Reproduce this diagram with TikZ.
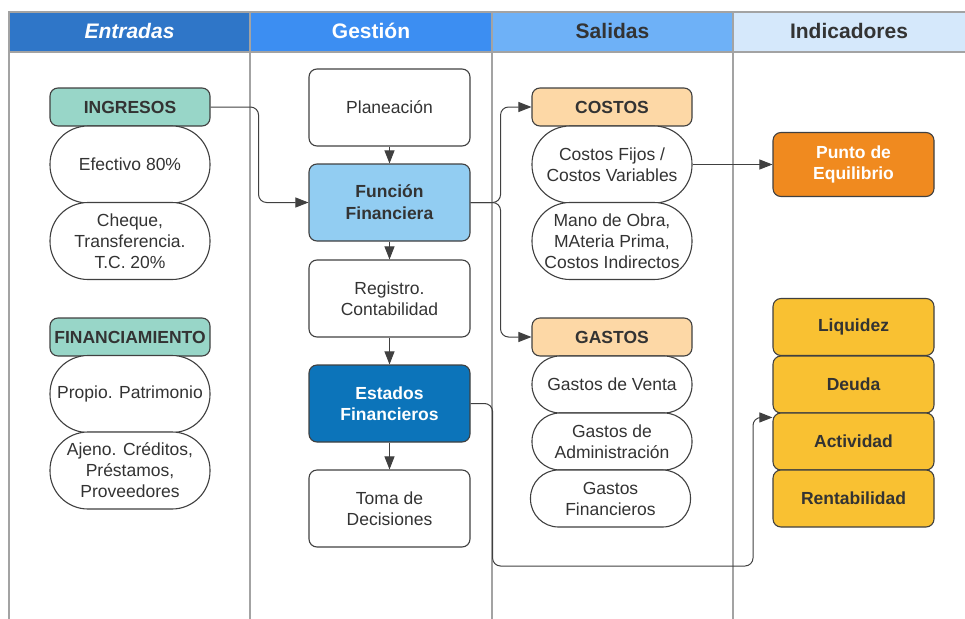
\documentclass[tikz,border=0pt]{standalone}
\usepackage{fontspec}
\setmainfont{Liberation Sans}
\usetikzlibrary{arrows.meta}

\definecolor{hdrEntradas}{HTML}{2F76C8}
\definecolor{hdrGestion}{HTML}{3C8EF2}
\definecolor{hdrSalidas}{HTML}{6EB1F7}
\definecolor{hdrIndic}{HTML}{D5E8FB}
\definecolor{teal}{HTML}{98D6C8}
\definecolor{funcblue}{HTML}{92CDF2}
\definecolor{estblue}{HTML}{0C74BA}
\definecolor{peach}{HTML}{FDD8A6}
\definecolor{naranja}{HTML}{F08A1F}
\definecolor{amarillo}{HTML}{F9C132}
\definecolor{edge}{HTML}{404040}
\definecolor{lane}{HTML}{A3A3A3}
\definecolor{txt}{HTML}{333333}

\begin{document}
\begin{tikzpicture}[x=1pt, y=-1pt,
        every node/.style={font=\fontsize{17.5}{21}\selectfont, text=txt, align=center},
        head/.style={minimum width=241pt, minimum height=40pt, inner sep=0pt, font=\fontsize{21}{25}\selectfont\bfseries},
        box/.style={draw=edge, line width=1.1pt, rounded corners=8pt, minimum width=161pt, minimum height=77pt, inner sep=2pt},
        title/.style={box, minimum width=160pt, minimum height=38pt, font=\fontsize{17.5}{21}\selectfont\bfseries},
        pill/.style={draw=edge, fill=white, line width=1.1pt, rounded corners=38pt, minimum width=160pt, minimum height=77pt, inner sep=1pt},
        smallpill/.style={pill, rounded corners=28pt, minimum height=57pt},
        indic/.style={box, fill=amarillo, minimum height=57pt, font=\fontsize{17.5}{21}\selectfont\bfseries},
        frame/.style={draw=lane, line width=1.5pt},
        flow/.style={draw=edge, line width=1pt, rounded corners=8pt, -{Triangle[length=13pt,width=10pt]}}]
        \useasboundingbox (0,0) rectangle (965,618);
        \node[head, fill=hdrEntradas, text=white] (entradas) at (129.5,32) {\raisebox{3pt}{\itshape Entradas}};
        \node[head, fill=hdrGestion, text=white] (gestion) at (371,32) {\raisebox{3pt}{Gestión}};
        \node[head, fill=hdrSalidas] (salidas) at (612.5,32) {\raisebox{3pt}{Salidas}};
        \node[head, fill=hdrIndic, minimum width=232pt] (indicadores) at (849,32) {\raisebox{3pt}{Indicadores}};
        \draw[frame] (9,620) |- (970,12);
        \draw[frame] (9,52) -- (970,52);
        \foreach \x in {250,492,733} \draw[frame] (\x,12) -- (\x,620);

        \node[title, fill=teal] (ingresos) at (130,107) {INGRESOS};
        \node[pill] (efectivo) at (130,164.5) {Efectivo 80\%};
        \node[pill] (cheque) at (130,241) {Cheque,\\Transferencia.\\T.C. 20\%};
        \node[title, fill=teal] (financiamiento) at (130,337) {FINANCIAMIENTO};
        \node[pill] (propio) at (130,394) {Propio. Patrimonio};
        \node[pill] (ajeno) at (130,470.5) {Ajeno. Créditos,\\Préstamos,\\Proveedores};

        \node[box] (planeacion) at (389.5,107.5) {Planeación};
        \node[box, fill=funcblue, font=\fontsize{17.5}{22}\selectfont\bfseries] (funcion) at (389.5,202.5) {Función\\Financiera};
        \node[box] (registro) at (389.5,298.5) {Registro.\\Contabilidad};
        \node[box, fill=estblue, text=white, font=\fontsize{17.5}{21}\selectfont\bfseries] (estados) at (389.5,403.5) {Estados\\Financieros};
        \node[box] (toma) at (389.5,508.5) {Toma de\\Decisiones};

        \node[title, fill=peach] (costos) at (612,107) {COSTOS};
        \node[pill] (fijos) at (612,164.5) {Costos Fijos /\\Costos Variables};
        \node[pill] (mano) at (612,241) {Mano de Obra,\\MAteria Prima,\\Costos Indirectos};
        \node[title, fill=peach] (gastos) at (612,337) {GASTOS};
        \node[smallpill] (venta) at (612,384.5) {Gastos de Venta};
        \node[smallpill] (admin) at (612,441.5) {Gastos de\\Administración};
        \node[smallpill] (gfin) at (610.5,498.5) {Gastos\\Financieros};

        \node[box, fill=naranja, text=white, minimum height=64pt, font=\fontsize{17.5}{21}\selectfont\bfseries] (punto) at (853.5,164.5) {Punto de\\Equilibrio};
        \node[indic] (liquidez) at (853.5,327) {Liquidez};
        \node[indic] (deuda) at (853.5,384.5) {Deuda};
        \node[indic] (actividad) at (853.5,441.5) {Actividad};
        \node[indic] (rentabilidad) at (853.5,498.5) {Rentabilidad};

        \coordinate (bajo) at (753,566);
        \draw[flow] (ingresos.east) -- ++(48,0) |- (funcion.west);
        \draw[flow] (planeacion) -- (funcion);
        \draw[flow] (funcion) -- (registro);
        \draw[flow] (registro) -- (estados);
        \draw[flow] (estados) -- (toma);
        \draw[flow] (funcion.east) -- ++(30,0) |- (costos.west);
        \draw[flow] (funcion.east) -- ++(30,0) |- (gastos.west);
        \draw[flow] (fijos.east) -- (punto.west);
        \draw[flow] (estados.east) -- ++(22,0) |- (bajo) |- ([yshift=-5pt]actividad.north west);
    \end{tikzpicture}
\end{document}
